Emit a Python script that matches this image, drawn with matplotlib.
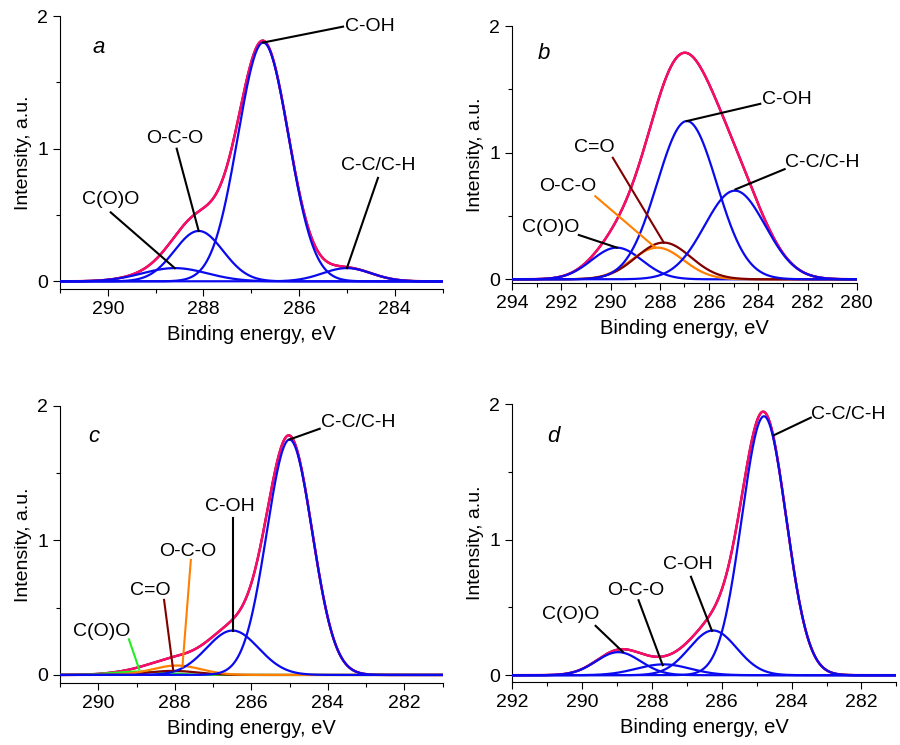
import numpy as np
import matplotlib.pyplot as plt
from matplotlib.ticker import MultipleLocator

plt.rcParams["font.family"] = ["Liberation Sans", "DejaVu Sans"]
plt.rcParams["font.size"] = 14

# fitted components of the C 1s spectra: centre (eV), height (a.u.), FWHM (eV)
a_names = ["C(O)O", "O-C-O", "C-OH", "C-C/C-H"]
a_center = [288.6, 288.1, 286.75, 285.0]
a_height = [0.10, 0.38, 1.80, 0.10]
a_fwhm = [1.6, 1.2, 1.25, 1.2]

b_names = ["C(O)O", "O-C-O", "C=O", "C-OH", "C-C/C-H"]
b_center = [289.75, 288.1, 287.85, 286.9, 284.95]
b_height = [0.25, 0.25, 0.29, 1.25, 0.70]
b_fwhm = [2.4, 2.5, 2.6, 2.85, 2.9]

c_names = ["C(O)O", "C=O", "O-C-O", "C-OH", "C-C/C-H"]
c_center = [288.93, 288.05, 287.95, 286.49, 285.0]
c_height = [0.025, 0.03, 0.07, 0.33, 1.75]
c_fwhm = [1.6, 1.5, 1.5, 1.6, 1.4]

d_names = ["C(O)O", "O-C-O", "C-OH", "C-C/C-H"]
d_center = [288.96, 287.67, 286.25, 284.79]
d_height = [0.17, 0.08, 0.33, 1.91]
d_fwhm = [1.5, 1.8, 1.6, 1.5]

BLUE = "#0a0aee"
ORANGE = "#ff8000"
BROWN = "#800000"
GREEN = "#22ee22"
MAGENTA = "#ff0a6a"

panels = [
    dict(letter="a", names=a_names, center=a_center, height=a_height, fwhm=a_fwhm,
         colors=[BLUE] * 4, xlim=(291, 283), ylim=(-0.058, 2.0),
         rect=[0.0667, 0.612, 0.425, 0.3665], letter_xy=(290.2, 1.76),
         notes=[("C(O)O", (289.94, 0.62), "center", (289.94, 0.52), (288.6, 0.10), "black"),
                ("O-C-O", (288.6, 1.08), "center", (288.56, 1.0), (288.1, 0.38), "black"),
                ("C-OH", (285.05, 1.92), "left", (285.08, 1.92), (286.75, 1.80), "black"),
                ("C-C/C-H", (284.35, 0.87), "center", (284.35, 0.78), (285.0, 0.10), "black")]),
    dict(letter="b", names=b_names, center=b_center, height=b_height, fwhm=b_fwhm,
         colors=[BLUE, ORANGE, BROWN, BLUE, BLUE], xlim=(294, 280), ylim=(-0.03, 2.0),
         rect=[0.569, 0.620, 0.383, 0.345], letter_xy=(292.7, 1.78),
         notes=[("C(O)O", (292.44, 0.41), "center", (291.29, 0.35), (289.74, 0.25), "black"),
                ("O-C-O", (291.74, 0.735), "center", (290.62, 0.656), (288.18, 0.25), ORANGE),
                ("C=O", (290.66, 1.04), "center", (289.91, 0.96), (287.84, 0.29), BROWN),
                ("C-OH", (283.85, 1.42), "left", (283.92, 1.386), (286.9, 1.25), "black"),
                ("C-C/C-H", (282.9, 0.92), "left", (282.93, 0.87), (284.93, 0.71), "black")]),
    dict(letter="c", names=c_names, center=c_center, height=c_height, fwhm=c_fwhm,
         colors=[GREEN, BROWN, ORANGE, BLUE, BLUE], xlim=(291, 281), ylim=(-0.06, 2.0),
         rect=[0.0667, 0.0832, 0.425, 0.372], letter_xy=(290.11, 1.77),
         notes=[("C(O)O", (289.9, 0.322), "center", (289.2, 0.265), (288.93, 0.042), GREEN),
                ("C=O", (288.65, 0.627), "center", (288.28, 0.558), (288.04, 0.032), BROWN),
                ("O-C-O", (287.67, 0.917), "center", (287.58, 0.855), (287.8, 0.062), ORANGE),
                ("C-OH", (286.57, 1.25), "center", (286.49, 1.165), (286.49, 0.33), "black"),
                ("C-C/C-H", (284.17, 1.876), "left", (284.21, 1.83), (285.0, 1.75), "black")]),
    dict(letter="d", names=d_names, center=d_center, height=d_height, fwhm=d_fwhm,
         colors=[BLUE] * 4, xlim=(292, 281), ylim=(-0.05, 2.0),
         rect=[0.569, 0.0846, 0.427, 0.373], letter_xy=(290.82, 1.76),
         notes=[("C(O)O", (290.33, 0.45), "center", (289.61, 0.364), (288.83, 0.172), "black"),
                ("O-C-O", (288.45, 0.627), "center", (288.38, 0.553), (287.69, 0.074), "black"),
                ("C-OH", (286.98, 0.817), "center", (286.88, 0.726), (286.28, 0.327), "black"),
                ("C-C/C-H", (283.44, 1.92), "left", (283.45, 1.90), (284.51, 1.77), "black")]),
]


def gauss(x, c, h, w):
    return h * np.exp(-4 * np.log(2) * (x - c) ** 2 / w ** 2)


fig = plt.figure(figsize=(9, 7.45), dpi=100)

for p in panels:
    ax = fig.add_axes(p["rect"])
    x = np.linspace(p["xlim"][0], p["xlim"][1], 600)
    comps = [gauss(x, c, h, w) for c, h, w in zip(p["center"], p["height"], p["fwhm"])]
    env = np.sum(comps, axis=0)

    ax.plot(x, env, color="black", lw=1.6, zorder=1)
    ax.plot(x, env, color=MAGENTA, lw=1.8, zorder=2)
    for y, col in zip(comps, p["colors"]):
        ax.plot(x, y, color=col, lw=1.6, zorder=3)

    for text, txy, ha, l0, l1, lc in p["notes"]:
        ax.plot([l0[0], l1[0]], [l0[1], l1[1]], color=lc, lw=1.5, zorder=4)
        ax.text(txy[0], txy[1], text, ha=ha, va="center", fontsize=14)

    ax.text(p["letter_xy"][0], p["letter_xy"][1], p["letter"], style="italic",
            fontsize=16, ha="center", va="center")

    ax.set_xlim(*p["xlim"])
    ax.set_ylim(*p["ylim"])
    ax.xaxis.set_major_locator(MultipleLocator(2))
    ax.xaxis.set_minor_locator(MultipleLocator(1))
    ax.yaxis.set_major_locator(MultipleLocator(1))
    ax.yaxis.set_minor_locator(MultipleLocator(0.5))
    ax.tick_params(which="major", length=5, width=0.8, labelsize=14)
    ax.tick_params(which="minor", length=3, width=0.8)
    ax.spines["top"].set_visible(False)
    ax.spines["right"].set_visible(False)
    for s in ("left", "bottom"):
        ax.spines[s].set_linewidth(0.8)
    ax.set_xlabel("Binding energy, eV", fontsize=14.5, labelpad=5)
    ax.set_ylabel("Intensity, a.u.", fontsize=14, labelpad=4)

fig.savefig("out.png", dpi=100)
